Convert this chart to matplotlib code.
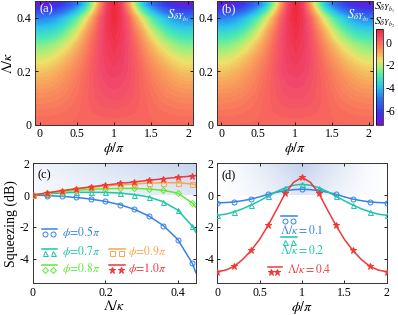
import numpy as np
import matplotlib
matplotlib.use('Agg')
import matplotlib.pyplot as plt
from matplotlib.colors import LinearSegmentedColormap, to_rgb

plt.rcParams['font.family'] = ['Liberation Serif', 'DejaVu Serif']
plt.rcParams['mathtext.fontset'] = 'stix'
plt.rcParams['axes.unicode_minus'] = False

# ---------------- heatmap data (half period, symmetric about phi = pi) -------------
phi_half = [0.0, 0.1, 0.2, 0.3, 0.4, 0.5, 0.6, 0.7, 0.8, 0.9, 1.0]
lam_rows = [0.0, 0.05, 0.10, 0.15, 0.20, 0.25, 0.30, 0.35, 0.40, 0.45]
S_row0 = [0, 0, 0, 0, 0, 0, 0, 0, 0, 0, 0]
S_row1 = [-0.22, -0.21, -0.19, -0.15, -0.10, -0.04, 0.03, 0.095, 0.145, 0.17, 0.175]
S_row2 = [-0.49, -0.47, -0.43, -0.35, -0.25, -0.115, 0.03, 0.155, 0.27, 0.33, 0.35]
S_row3 = [-0.84, -0.81, -0.72, -0.59, -0.42, -0.225, -0.02, 0.178, 0.345, 0.455, 0.49]
S_row4 = [-1.27, -1.21, -1.06, -0.86, -0.63, -0.38, -0.10, 0.18, 0.42, 0.58, 0.64]
S_row5 = [-1.82, -1.75, -1.55, -1.30, -1.00, -0.67, -0.29, 0.105, 0.42, 0.655, 0.755]
S_row6 = [-2.55, -2.47, -2.25, -1.93, -1.55, -1.10, -0.58, -0.045, 0.40, 0.725, 0.88]
S_row7 = [-3.50, -3.44, -3.26, -2.90, -2.38, -1.77, -1.05, -0.345, 0.32, 0.77, 1.005]
S_row8 = [-4.82, -4.72, -4.48, -4.05, -3.48, -2.80, -1.90, -0.95, 0.11, 0.79, 1.12]
S_row9 = [-6.90, -6.85, -6.62, -6.20, -5.60, -4.90, -3.85, -2.35, -0.78, 0.65, 1.23]

# ---------------- panel (c) data ----------------
lam_c = [0.0, 0.04, 0.08, 0.12, 0.16, 0.20, 0.24, 0.28, 0.32, 0.36, 0.40, 0.44, 0.45]
c_phi05 = [0, -0.03, -0.08, -0.15, -0.25, -0.40, -0.60, -0.90, -1.32, -1.92, -2.80, -4.30, -4.90]
c_phi07 = [0, 0.08, 0.14, 0.17, 0.18, 0.17, 0.13, 0.03, -0.12, -0.42, -0.95, -1.96, -2.35]
c_phi08 = [0, 0.12, 0.22, 0.30, 0.36, 0.40, 0.42, 0.42, 0.38, 0.30, 0.12, -0.50, -0.78]
c_phi09 = [0, 0.14, 0.27, 0.38, 0.48, 0.57, 0.64, 0.70, 0.75, 0.78, 0.78, 0.70, 0.65]
c_phi10 = [0, 0.14, 0.28, 0.40, 0.52, 0.63, 0.73, 0.83, 0.93, 1.03, 1.12, 1.20, 1.23]

# ---------------- panel (d) data ----------------
phi_d = [0.0, 0.1, 0.2, 0.3, 0.4, 0.5, 0.6, 0.7, 0.8, 0.9, 1.0,
         1.1, 1.2, 1.3, 1.4, 1.5, 1.6, 1.7, 1.8, 1.9, 2.0]
d_lam01 = [-0.49, -0.47, -0.43, -0.35, -0.25, -0.11, 0.05, 0.18, 0.28, 0.34, 0.37,
           0.34, 0.28, 0.18, 0.05, -0.11, -0.25, -0.35, -0.43, -0.47, -0.49]
d_lam02 = [-1.27, -1.20, -1.05, -0.86, -0.62, -0.36, -0.06, 0.22, 0.46, 0.62, 0.68,
           0.62, 0.46, 0.22, -0.06, -0.36, -0.62, -0.86, -1.05, -1.20, -1.27]
d_lam04 = [-4.82, -4.72, -4.48, -4.05, -3.48, -2.78, -1.90, -0.92, 0.10, 0.80, 1.12,
           0.80, 0.10, -0.92, -1.90, -2.78, -3.48, -4.05, -4.48, -4.72, -4.82]

C_BLUE = '#3683e6'
C_TEAL = '#1dc6a6'
C_GREEN = '#5fe83a'
C_ORANGE = '#f8a650'
C_RED = '#f03838'

# ---------------- colormap ----------------
cm_nodes = [(-7.3, '#7a12d2'), (-6.3, '#3c34ea'), (-5.0, '#2f74f0'), (-3.9, '#2cc4ee'),
            (-3.0, '#4ae8b4'), (-2.2, '#a6f07a'), (-1.6, '#eee26a'), (-0.9, '#f8a85c'),
            (0.0, '#f86a5c'), (0.55, '#f2486c'), (1.15, '#ee2a3e')]
vmin, vmax = cm_nodes[0][0], cm_nodes[-1][0]
cmap = LinearSegmentedColormap.from_list(
    'sq', [((v - vmin) / (vmax - vmin), c) for v, c in cm_nodes]).resampled(72)

S_half = np.array([S_row0, S_row1, S_row2, S_row3, S_row4, S_row5, S_row6, S_row7, S_row8, S_row9])
S_full = np.hstack([S_half[:, 1:2], S_half, S_half[:, -2::-1], S_half[:, 1:2]])  # phi -0.1 .. 2.1

W, H = 398, 315
fig = plt.figure(figsize=(W / 100, H / 100), dpi=100)


def ax_px(x0, y0, x1, y1):
    return fig.add_axes([x0 / W, 1 - y1 / H, (x1 - x0) / W, (y1 - y0) / H])


FS_T = 8.5
FS_L = 10


def style(ax):
    ax.tick_params(direction='in', top=True, right=True, labelsize=FS_T, length=2.5, width=0.6, pad=2.5)
    for s in ax.spines.values():
        s.set_linewidth(0.7)
        s.set_color('#333333')


ax_a = ax_px(35, 1, 193, 125)
ax_b = ax_px(216.7, 1, 373, 125)
for ax, lab, sub in [(ax_a, '(a)', r'$S_{\delta Y_{b_1}}$'), (ax_b, '(b)', r'$S_{\delta Y_{b_2}}$')]:
    im = ax.imshow(S_full, origin='lower', extent=(-0.15, 2.15, -0.025, 0.475), aspect='auto',
                   cmap=cmap, vmin=vmin, vmax=vmax, interpolation='bilinear',
                   interpolation_stage='data')
    ax.set_xlim(-0.066, 2.066)
    ax.set_ylim(0, 0.463)
    ax.set_xticks([0, 0.5, 1, 1.5, 2])
    ax.set_xticklabels(['0', '0.5', '1', '1.5', '2'])
    ax.set_yticks([0, 0.2, 0.4])
    ax.set_yticklabels(['0', '0.2', '0.4'])
    style(ax)
    ax.set_xlabel(r'$\phi/\pi$', fontsize=FS_L, labelpad=0)
    ax.text(0.03, 0.985, lab, transform=ax.transAxes, color='white', fontsize=9, va='top', ha='left')
    ax.text(0.975, 0.955, sub, transform=ax.transAxes, color='white', fontsize=9, va='top', ha='right')
ax_b.set_xlim(-0.06, 2.055)
ax_a.set_ylabel(r'$\Lambda/\kappa$', fontsize=FS_L, labelpad=1)

cax = ax_px(375.7, 29, 382.7, 125)
cb = fig.colorbar(im, cax=cax)
cb.set_ticks([0, -2, -4, -6])
cb.set_ticklabels(['0', '-2', '-4', '-6'])
cb.ax.tick_params(labelsize=FS_T, length=0, pad=2)
cb.outline.set_linewidth(0.5)
fig.text(374 / W, 1 - 1 / H, r'$S_{\delta Y_{b_1}}$', fontsize=8.5, va='top', ha='left')
fig.text(374 / W, 1 - 15.5 / H, r'$S_{\delta Y_{b_2}}$', fontsize=8.5, va='top', ha='left')

# ---------------- panel (c) ----------------
ax_c = ax_px(33, 163.3, 196, 283.3)
ax_d = ax_px(217.3, 163.3, 386.7, 283.3)

shade = np.array(to_rgb('#b4c6e8'))
ny, nx = 60, 120
gy, gx = np.mgrid[0:1:ny * 1j, 0:1:nx * 1j]
alpha_c = 0.75 * (0.25 + 0.75 * gx) * (0.55 + 0.45 * gy)
rgba_c = np.zeros((ny, nx, 4)); rgba_c[..., :3] = shade; rgba_c[..., 3] = alpha_c
ax_c.imshow(rgba_c, origin='lower', extent=(0, 0.45, 0, 2), aspect='auto', zorder=0)
alpha_d = 0.8 * (1 - np.abs(gx - 0.5) * 2) ** 1.3 * (0.55 + 0.45 * gy)
rgba_d = np.zeros((ny, nx, 4)); rgba_d[..., :3] = shade; rgba_d[..., 3] = alpha_d
ax_d.imshow(rgba_d, origin='lower', extent=(0, 2, 0, 2), aspect='auto', zorder=0)

MS = 3.6
series_c = [(c_phi05, C_BLUE, 'o', 'none'), (c_phi07, C_TEAL, '^', 'none'),
            (c_phi08, C_GREEN, 'D', 'none'), (c_phi09, C_ORANGE, 's', 'none'),
            (c_phi10, C_RED, '*', C_RED)]
for vals, col, mk, mfc in series_c:
    ax_c.plot(lam_c, vals, color=col, lw=1.1, zorder=3)
    ms = MS * 1.4 if mk == '*' else (MS * 0.85 if mk == 'D' else MS)
    ax_c.plot(lam_c[:-1], vals[:-1], ls='none', marker=mk, mfc=mfc, mec=col, mew=0.7, ms=ms, zorder=4)
ax_c.set_xlim(0, 0.45)
ax_c.set_ylim(-5.55, 2)
ax_c.set_xticks([0, 0.2, 0.4]); ax_c.set_xticklabels(['0', '0.2', '0.4'])
ax_c.set_yticks([2, 0, -2, -4]); ax_c.set_yticklabels(['2', '0', '-2', '-4'])
style(ax_c)
ax_c.set_xlabel(r'$\Lambda/\kappa$', fontsize=FS_L, labelpad=0)
ax_c.set_ylabel('Squeezing (dB)', fontsize=FS_L, labelpad=1)
ax_c.text(0.025, 0.95, '(c)', transform=ax_c.transAxes, fontsize=9, va='top')


def leg_entry(ax, xl, yl, xm, ym, col, mk, mfc, txt, xt, yt, ha='left'):
    ax.plot(xl, [yl, yl], color=col, lw=1.1, transform=ax.transAxes, zorder=5)
    ms = MS * 1.4 if mk == '*' else (MS * 0.85 if mk == 'D' else MS)
    ax.plot(xm, [ym] * len(xm), ls='none', marker=mk, mfc=mfc, mec=col, mew=0.7, ms=ms,
            transform=ax.transAxes, zorder=5)
    ax.text(xt, yt, txt, color=col, fontsize=8.5, transform=ax.transAxes, va='center', ha=ha, zorder=5)


leg_entry(ax_c, [0.053, 0.148], 0.45, [0.074, 0.125], 0.415, C_BLUE, 'o', 'none', r'$\phi\!=\!0.5\pi$', 0.18, 0.425)
leg_entry(ax_c, [0.053, 0.148], 0.29, [0.074, 0.125], 0.25, C_TEAL, '^', 'none', r'$\phi\!=\!0.7\pi$', 0.18, 0.265)
leg_entry(ax_c, [0.053, 0.148], 0.153, [0.074, 0.125], 0.11, C_GREEN, 'D', 'none', r'$\phi\!=\!0.8\pi$', 0.18, 0.12)
leg_entry(ax_c, [0.466, 0.564], 0.29, [0.487, 0.538], 0.25, C_ORANGE, 's', 'none', r'$\phi\!=\!0.9\pi$', 0.58, 0.265)
leg_entry(ax_c, [0.466, 0.564], 0.153, [0.487, 0.538], 0.11, C_RED, '*', C_RED, r'$\phi\!=\!1.0\pi$', 0.58, 0.12)

# ---------------- panel (d) ----------------
series_d = [(d_lam01, C_BLUE, 'o', 'none'), (d_lam02, C_TEAL, '^', 'none'), (d_lam04, C_RED, '*', C_RED)]
for vals, col, mk, mfc in series_d:
    ax_d.plot(phi_d, vals, color=col, lw=1.1, zorder=3)
    ms = MS * 1.4 if mk == '*' else MS
    ax_d.plot(phi_d[::2], vals[::2], ls='none', marker=mk, mfc=mfc, mec=col, mew=0.7, ms=ms, zorder=4)
ax_d.set_xlim(0, 2)
ax_d.set_ylim(-5.55, 2)
ax_d.set_xticks([0, 0.5, 1, 1.5, 2]); ax_d.set_xticklabels(['0', '0.5', '1', '1.5', '2'])
ax_d.set_yticks([2, 0, -2, -4]); ax_d.set_yticklabels(['2', '0', '-2', '-4'])
style(ax_d)
ax_d.set_xlabel(r'$\phi/\pi$', fontsize=FS_L, labelpad=0)
ax_d.text(0.025, 0.95, '(d)', transform=ax_d.transAxes, fontsize=9, va='top')

leg_entry(ax_d, [0.376, 0.472], 0.563, [0.4, 0.449], 0.52, C_BLUE, 'o', 'none', r'$\Lambda/\kappa = 0.1$', 0.37, 0.44)
leg_entry(ax_d, [0.376, 0.472], 0.383, [0.4, 0.449], 0.347, C_TEAL, '^', 'none', r'$\Lambda/\kappa = 0.2$', 0.37, 0.275)
leg_entry(ax_d, [0.30, 0.38], 0.138, [0.317, 0.354], 0.096, C_RED, '*', C_RED, r'$\Lambda/\kappa = 0.4$', 0.413, 0.117)

fig.savefig('out.png', dpi=100)
